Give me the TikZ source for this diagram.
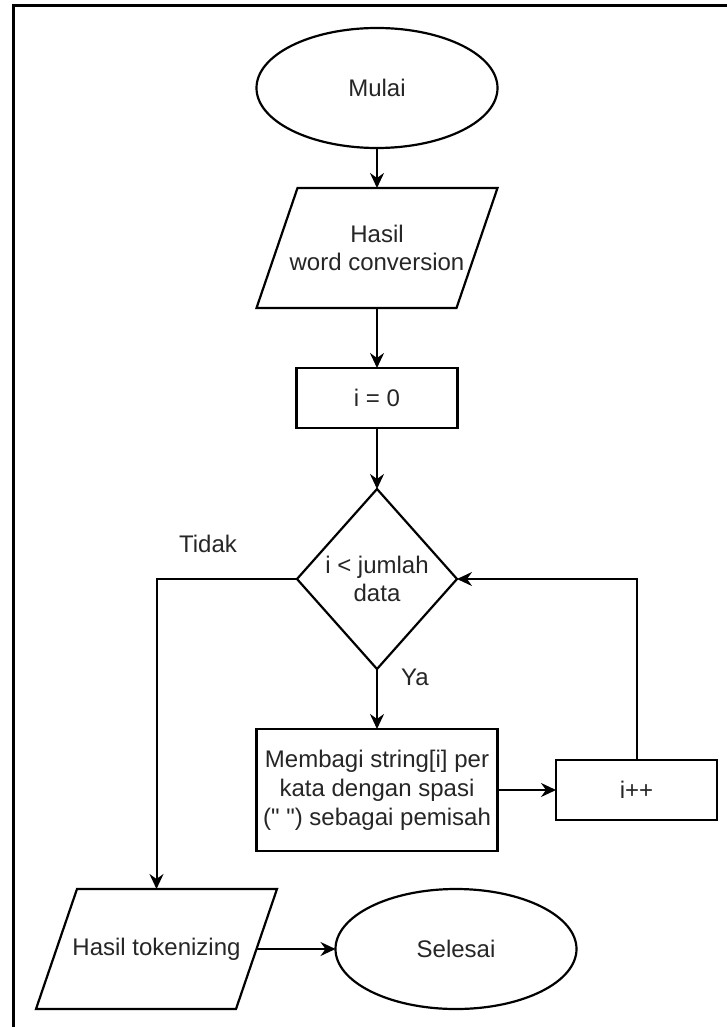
\documentclass[tikz,border=0pt]{standalone}
\usepackage{fontspec}
\newfontfamily\dfont{Liberation Sans}
\usetikzlibrary{shapes.geometric,arrows.meta}
\begin{document}
\begin{tikzpicture}[x=1pt,y=-1pt,
  every node/.style={font=\dfont\fontsize{24}{28.8}\selectfont, text=black!85, align=center, inner sep=0pt, outer sep=0pt},
  shape line/.style={draw=black, line width=2.2pt},
  term/.style={ellipse, shape line, minimum width=241pt, minimum height=120pt},
  proc/.style={rectangle, shape line, minimum width=241pt, minimum height=122pt},
  smallbox/.style={rectangle, shape line, minimum width=161pt, minimum height=60pt},
  io/.style={rectangle, minimum width=200pt, minimum height=120pt},
  dec/.style={diamond, shape line, minimum width=160pt, minimum height=180pt, aspect=0.889},
  flow/.style={draw=black, line width=2pt, -{Stealth[length=15pt,width=14pt,inset=5pt]}}
]
\useasboundingbox (0,0) rectangle (727,1027);
\fill[white] (0,0) rectangle (727,1027);
% frame
\draw[line width=3.5pt, line join=miter] (13.5,1027) -- (13.5,5.7) -- (727,5.7);

\node[term] (start) at (377,88) {Mulai};
\node[io] (inp) at (377,248) {Hasil\\word conversion};
\draw[shape line] ([xshift=20.5pt]inp.north west) -- ([xshift=20.5pt]inp.north east)
  -- ([xshift=-20.5pt]inp.south east) -- ([xshift=-20.5pt]inp.south west) -- cycle;
\node[smallbox] (init) at (377,398) {i = 0};
\node[dec] (cond) at (377,579) {i < jumlah\\data};
\node[proc] (split) at (377,790) {Membagi string[i] per\\kata dengan spasi\\(" ") sebagai pemisah};
\node[smallbox] (inc) at (636.5,790) {i++};
\node[io] (out) at (156.5,949) {Hasil tokenizing};
\draw[shape line] ([xshift=20.5pt]out.north west) -- ([xshift=20.5pt]out.north east)
  -- ([xshift=-20.5pt]out.south east) -- ([xshift=-20.5pt]out.south west) -- cycle;
\node[term] (end) at (456,949) {Selesai};

\node (tidak) at (208,544) {Tidak};
\node (ya) at (415,677) {Ya};

\draw[flow] (start.south) -- (inp.north);
\draw[flow] (inp.south) -- (init.north);
\draw[flow] (init.south) -- (cond.north);
\draw[flow] (cond.south) -- (split.north);
\draw[flow] (split.east) -- (inc.west);
\draw[flow] (inc.north) |- (cond.east);
\draw[flow] (cond.west) -| (out.north);
\draw[flow] (out.east) -- (end.west);
\end{tikzpicture}
\end{document}
